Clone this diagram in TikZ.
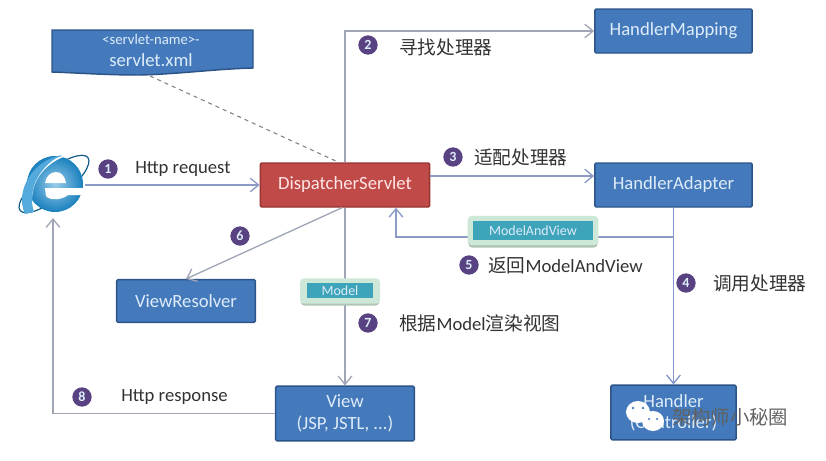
\documentclass[tikz,border=0pt]{standalone}
\usepackage{fontspec}
\setmainfont{Carlito}
\newfontfamily\cjk{Noto Sans CJK SC}
\usepackage{tikz}
\usetikzlibrary{arrows.meta,positioning,shapes.geometric,calc,backgrounds}
\definecolor{BoxBlue}{RGB}{68,122,188}
\definecolor{BoxEdge}{RGB}{44,84,136}
\definecolor{BoxRed}{RGB}{192,74,72}
\definecolor{RedEdge}{RGB}{150,52,50}
\definecolor{LineGrey}{RGB}{160,166,182}
\definecolor{LineBlue}{RGB}{130,150,205}
\definecolor{StepPurple}{RGB}{88,66,130}
\definecolor{ChipTeal}{RGB}{62,164,186}
\definecolor{ChipGlow}{RGB}{205,232,214}
\definecolor{ChipShade}{RGB}{176,196,182}
\definecolor{TextDark}{RGB}{50,50,50}
\definecolor{BoxText}{RGB}{222,236,250}
\definecolor{IeBlue}{RGB}{28,142,210}

\begin{document}
\begin{tikzpicture}[
  x=0.75pt,y=-0.75pt,
  box/.style={
    draw=BoxEdge,
    fill=BoxBlue,
    rounded corners=1pt,
    align=center,
    text=BoxText,
    line width=1.1pt,
    inner sep=0pt,
    font=\fontsize{14}{16}\selectfont
  },
  conn/.style={draw=LineGrey,line width=1pt},
  flow/.style={conn,-{Straight Barb[length=2.2mm,width=3.6mm]}},
  stepnum/.style={circle,fill=StepPurple,text=BoxText,minimum size=14.5pt,inner sep=0pt,font=\fontsize{10.5}{10.5}\selectfont\bfseries},
  steptext/.style={text=TextDark,inner sep=0pt,font=\fontsize{14}{16}\selectfont},
  chipglow/.style={fill=ChipGlow,rounded corners=3pt,inner sep=0pt},
  chipshade/.style={fill=ChipShade,rounded corners=3pt,inner sep=0pt},
  chip/.style={fill=ChipTeal,text=BoxText,inner sep=0pt,font=\fontsize{10.5}{12}\selectfont}
]
\useasboundingbox (0,0) rectangle (826,461);

% Blue boxes
\node[box,minimum width=118pt,minimum height=33pt] (mapping) at (673.5,31) {HandlerMapping};
\node[box,minimum width=118pt,minimum height=33pt] (adapter) at (673.5,185) {HandlerAdapter};
\node[box,minimum width=104pt,minimum height=32pt] (resolver) at (186,301) {ViewResolver};
\node[box,minimum width=104pt,minimum height=41pt] (view) at (345,413.5) {View\\(JSP, JSTL, ...)};
\node[box,minimum width=94pt,minimum height=41pt] (handler) at (673.5,412.5) {Handler\\(Controller)};
\node[box,draw=RedEdge,fill=BoxRed,text=white!90!red,minimum width=127pt,minimum height=33pt] (dispatcher) at (345,185) {DispatcherServlet};

% Document shape with the wavy lower edge
\draw[draw=BoxEdge,fill=BoxBlue,line width=1.1pt]
  (52,30) -- (253,30) -- (253,68)
  .. controls (215,69) and (180,74) .. (140,75)
  .. controls (105,75) and (80,73) .. (52,72) -- cycle;
\node[inner sep=0pt,text=BoxText,font=\fontsize{11}{12}\selectfont] (tagname) at (151,39.5) {<servlet-name>-};
\node[inner sep=0pt,text=BoxText,font=\fontsize{14}{15}\selectfont] (servletxml) at (151,60) {servlet.xml};
\coordinate (noteend) at (150,76);

% Browser icon
\node[inner sep=0pt] (browser) at (54,184) {};
\coordinate (browserright) at (85,185);
\coordinate (browserlow) at (53,218);
\draw[IeBlue!65!black,line width=0.9pt,rotate around={38:(54,184)}] (54,184) ellipse (43 and 14);
\shade[inner color=IeBlue!45!white,outer color=IeBlue!90!black] (55,184) circle (28);
% swoosh round the upper left
\fill[white] (26,200) .. controls (24,176) and (42,158) .. (66,156)
  .. controls (48,162) and (32,178) .. (32,200) -- cycle;
\fill[IeBlue!75!white] (25,214) .. controls (14,190) and (34,160) .. (62,155)
  .. controls (42,164) and (26,188) .. (34,212) -- cycle;
% white parts of the letter
\fill[white] (45,183) .. controls (46,176) and (51,172) .. (56,172)
  .. controls (61,172) and (65,176) .. (66,183) -- cycle;
\fill[white] (45,188) -- (84,188) -- (84,195) -- (68,195)
  .. controls (62,200) and (50,201) .. (46,196) -- cycle;

% Connectors
\draw[dashed,draw=black!50,line width=0.8pt] (noteend) -- (338,162);
\draw[flow,draw=LineBlue!70!LineGrey] (browserright) -- (dispatcher.west);
\draw[flow] (dispatcher.north) |- (mapping.west);
\draw[flow,draw=LineBlue!70!LineGrey] ($(dispatcher.east)+(0,-9)$) -- ($(adapter.west)+(0,-9)$);
\draw[flow,draw=LineBlue] (adapter.south) -- (handler.north);
\coordinate (backcorner) at (673.5,237);
\draw[flow,draw=LineBlue!70!LineGrey] (backcorner) -| ($(dispatcher.south)+(51,0)$);
\draw[flow] ($(dispatcher.south)+(-3,0)$) -- (resolver.north);
\draw[flow] (dispatcher.south) -- (view.north);
\draw[flow] (view.west) -| (browserlow);

% Chips on the lines
\node[chipshade,minimum width=97pt,minimum height=22pt] (mavshade) at (533,233) {};
\node[chipglow,minimum width=98pt,minimum height=22pt] (mavglow) at (533,230.5) {};
\node[chip,minimum width=90pt,minimum height=14.5pt] (mav) at (533,230.5) {ModelAndView};
\node[chipshade,minimum width=59pt,minimum height=19pt] (modelshade) at (340,293) {};
\node[chipglow,minimum width=60pt,minimum height=19pt] (modelglow) at (340,291) {};
\node[chip,minimum width=50pt,minimum height=11.5pt] (model) at (340,290.5) {Model};

% Numbered steps
\node[stepnum] (n1) at (108,169) {1};
\node[stepnum] (n2) at (368,45) {2};
\node[stepnum] (n3) at (453,157) {3};
\node[stepnum] (n4) at (686,283) {4};
\node[stepnum] (n5) at (469,265) {5};
\node[stepnum] (n6) at (240,236) {6};
\node[stepnum] (n7) at (368,323) {7};
\node[stepnum] (n8) at (82,397) {8};

\node[steptext,anchor=west] (t1) at (135,169.5) {Http request};
\node[steptext,anchor=west] (t2) at (399,47) {\cjk 寻找处理器};
\node[steptext,anchor=west] (t3) at (474,157) {\cjk 适配处理器};
\node[steptext,anchor=west] (t4) at (713,283) {\cjk 调用处理器};
\node[steptext,anchor=west] (t5) at (488,266) {{\cjk 返回}ModelAndView};
\node[steptext,anchor=west] (t7) at (399,323) {{\cjk 根据}Model{\cjk 渲染视图}};
\node[steptext,anchor=west] (t8) at (121,397.5) {Http response};

% Overlaid account mark
\fill[white] (638,412) ellipse (12 and 11);
\fill[white] (653,421) ellipse (11 and 10);
\fill[BoxBlue] (633,408) circle (1.4) (643,408) circle (1.4);
\fill[BoxBlue] (649,419) circle (1.2) (657,419) circle (1.2);
\node[inner sep=0pt,anchor=west,text=black!62,font=\fontsize{14.5}{16}\selectfont\cjk] (mark) at (672,417) {架构师小秘圈};
\end{tikzpicture}
\end{document}
